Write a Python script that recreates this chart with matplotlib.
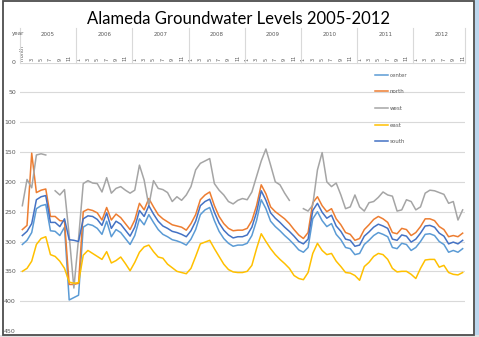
import numpy as np
import matplotlib.pyplot as plt
from matplotlib.patches import Rectangle
from matplotlib.lines import Line2D
from matplotlib.transforms import blended_transform_factory

nan = np.nan

# categories: first row is the header cell, then monthly readings
years = [2005, 2006, 2007, 2008, 2009, 2010, 2011, 2012]
months = [m for y in years for m in range(1, 13)][:95]

center = [305, 298, 285, 245, 240, 238, 282, 283, 290, 276, 398, 394,
          390, 276, 271, 273, 278, 288, 266, 292, 280, 285, 295, 305,
          290, 262, 272, 255, 268, 280, 288, 292, 297, 299, 302, 306,
          296, 280, 255, 247, 243, 265, 283, 295, 303, 308, 306, 306,
          303, 290, 265, 230, 245, 266, 275, 282, 290, 297, 305, 314,
          318, 310, 262, 250, 265, 275, 270, 288, 297, 310, 312, 322,
          320, 305, 298, 290, 285, 288, 292, 310, 312, 303, 305, 315,
          310, 300, 288, 287, 290, 300, 305, 318, 315, 318, 312]

north = [280, 273, 152, 218, 214, 212, 258, 258, 265, 266, 372, 372,
         370, 250, 246, 248, 252, 264, 243, 264, 254, 260, 270, 280,
         264, 236, 247, 228, 242, 255, 262, 267, 272, 274, 276, 281,
         270, 255, 230, 222, 217, 240, 258, 270, 278, 282, 281, 281,
         278, 265, 240, 205, 220, 242, 250, 256, 262, 270, 280, 289,
         295, 285, 235, 225, 240, 250, 245, 262, 272, 285, 288, 298,
         295, 280, 272, 263, 258, 262, 268, 285, 287, 278, 280, 290,
         285, 275, 262, 262, 265, 275, 280, 292, 290, 292, 286]

west = [240, 196, 210, 155, 153, 155, nan, 215, 222, 213, 290, 378,
        295, 203, 198, 202, 203, 217, 193, 219, 211, 208, 214, 219,
        214, 172, 197, 240, 198, 211, 213, 218, 233, 225, 231, 222,
        208, 180, 169, 165, 161, 203, 214, 222, 233, 237, 231, 228,
        230, 217, 191, 165, 145, 172, 200, 205, 219, 231, nan, nan,
        245, 249, 239, 180, 151, 200, 208, 202, 222, 245, 242, 222,
        242, 249, 235, 233, 226, 217, 222, 224, 249, 247, 230, 233,
        247, 242, 219, 214, 215, 218, 221, 236, 233, 264, 247]

east = [350, 345, 333, 305, 295, 292, 322, 325, 333, 345, 368, 370,
        369, 323, 315, 320, 325, 330, 317, 336, 332, 326, 337, 349,
        335, 318, 309, 306, 317, 326, 328, 338, 344, 350, 352, 354,
        345, 325, 304, 301, 298, 312, 325, 338, 347, 351, 352, 352,
        350, 340, 312, 287, 300, 312, 322, 330, 337, 345, 357, 362,
        364, 352, 320, 303, 315, 322, 320, 333, 342, 352, 353, 357,
        365, 342, 335, 325, 320, 322, 330, 345, 351, 350, 350, 355,
        362, 345, 331, 330, 330, 343, 340, 352, 355, 356, 352]

south = [290, 283, 270, 230, 225, 223, 268, 268, 275, 262, 297, 298,
         300, 262, 257, 258, 263, 273, 252, 278, 266, 271, 281, 291,
         276, 248, 258, 240, 254, 266, 274, 278, 283, 285, 288, 292,
         282, 266, 240, 233, 229, 251, 269, 281, 289, 294, 292, 292,
         289, 276, 251, 215, 231, 252, 261, 268, 276, 283, 291, 300,
         304, 296, 248, 236, 251, 261, 256, 274, 283, 296, 298, 308,
         306, 291, 284, 276, 271, 274, 278, 296, 298, 289, 291, 301,
         296, 286, 274, 273, 276, 286, 291, 304, 301, 304, 298]

series = [('center', center, '#5B9BD5'),
          ('north', north, '#ED7D31'),
          ('west', west, '#A5A5A5'),
          ('east', east, '#FFC000'),
          ('south', south, '#4472C4')]

W, H = 479, 337
fig = plt.figure(figsize=(W / 100, H / 100), dpi=100)
ax = fig.add_axes([20 / W, 1 - 331 / H, 445 / W, (331 - 62.5) / H])

x = np.arange(len(months))
for name, vals, color in series:
    ax.plot(x, vals, color=color, lw=1.1, label=name)

ax.set_xlim(-0.5, len(months) - 0.5)
ax.set_ylim(450, 0)
ax.set_yticks(range(0, 451, 50))
ax.grid(axis='y', color='#D9D9D9', lw=0.8)
ax.set_axisbelow(True)
for s in ax.spines.values():
    s.set_visible(False)

# month labels on top, every other category
ticks = x[::2]
labels = ['month' if i == 0 else str(months[i]) for i in ticks]
ax.xaxis.tick_top()
ax.set_xticks(ticks)
ax.set_xticklabels(labels, rotation=90)
ax.tick_params(axis='x', length=0, labelsize=3.5, pad=1, colors='#595959')
ax.tick_params(axis='y', length=0, labelsize=4.5, pad=3, colors='#595959')

# year level of the category axis
tr = blended_transform_factory(ax.transData, fig.transFigure)
for k, yr in enumerate(years):
    ax.text(12 * k + 5.5, 1 - 35 / H, str(yr), transform=tr, ha='center',
            va='center', fontsize=4, color='#595959')
for b in [-0.5] + [12 * k + 11.5 for k in range(7)] + [len(months) - 0.5]:
    fig.add_artist(Line2D([b, b], [1 - 28 / H, 1 - 62.5 / H], transform=tr,
                          color='#D9D9D9', lw=0.8))
fig.text(18 / W, 1 - 34 / H, 'year', ha='center', va='center', fontsize=4,
         color='#595959')

ax.legend(loc='upper left', bbox_to_anchor=(372 / W, 1 - 70 / H),
          bbox_transform=fig.transFigure, frameon=False, fontsize=4,
          handlelength=2.4, handletextpad=0.3, labelspacing=2.1,
          borderpad=0, labelcolor='#595959')

fig.text(238.5 / W, 1 - 19 / H, 'Alameda Groundwater Levels 2005-2012',
         fontsize=12, family='Lato', ha='center', va='center')

# screenshot frame
fig.add_artist(Rectangle((475 / W, 0), 4 / W, 1, transform=fig.transFigure,
                         color='#BDD7EE', lw=0))
fig.add_artist(Rectangle((0, 0), 1, 2 / H, transform=fig.transFigure,
                         color='#E3E3E3', lw=0))
fig.add_artist(Rectangle((3 / W, 1 - 334.5 / H), 471 / W, 334 / H,
                         transform=fig.transFigure, fill=False,
                         edgecolor='#4D4D4D', lw=1.3))

fig.savefig('out.png', dpi=100)
